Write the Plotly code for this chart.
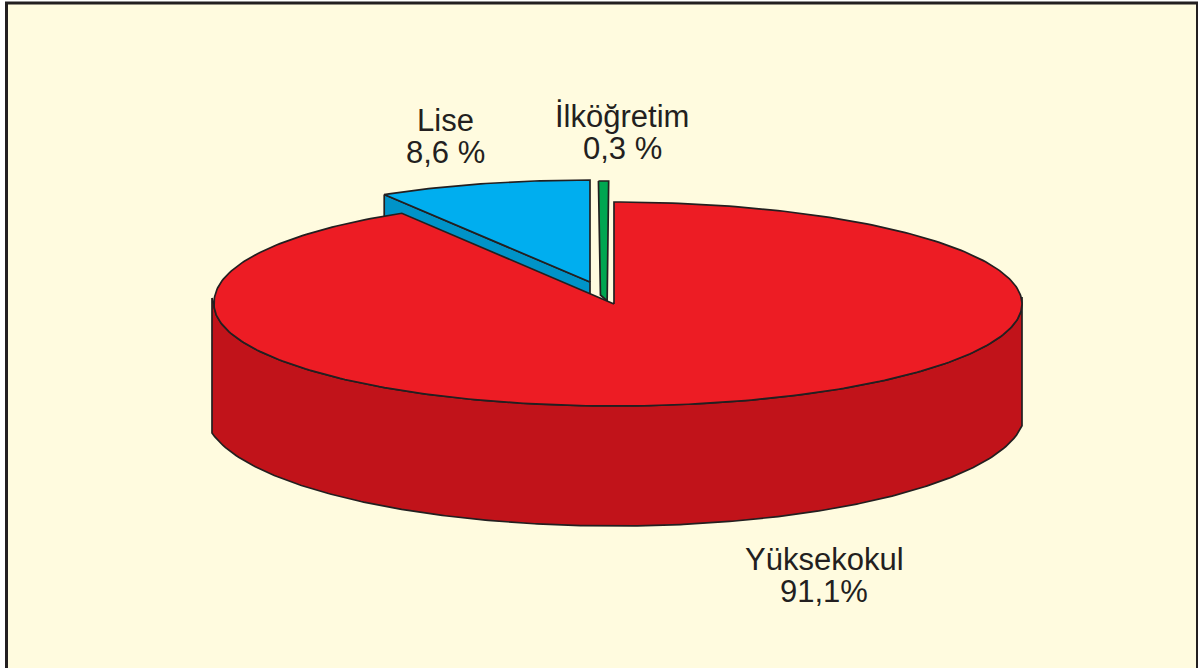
import numpy as np
import plotly.graph_objects as go

# Data
categories = ["Yüksekokul", "Lise", "İlköğretim"]
values = [91.1, 8.6, 0.3]
value_labels = ["91,1%", "8,6 %", "0,3 %"]

# Colours
top_colors = ["#ED1C24", "#00AEEF", "#00A651"]
side_colors = ["#C1131A", "#0093C8", "#00A651"]
INK = "#231F20"
BG = "#FFFBDF"

# Pie projection geometry (page pixels)
W, H = 1198, 668
CX, CY = 614, 304
RX_L, RX_R, RY = 400, 408, 102
WALL_L, WALL_R = 212, 1022
WALL_CX, WALL_CY, WALL_RX, WALL_RY = 615, 412, 410, 114
EXPLODE = {"Lise": (-24, -22), "İlköğretim": (-10.5, -21)}
MIN_SWEEP = 1.45
LISE_BAND = 40
UPPER_LEFT_LIFT = 4.5


def rim(t_deg, cx=CX, cy=CY, lift=0.0):
    t = np.radians(np.asarray(t_deg, dtype=float))
    s, c = np.sin(t), np.cos(t)
    y = cy - RY * c
    if lift:
        y = y - lift * np.sqrt(np.clip(-np.sin(2 * t), 0, None)) * ((s < 0) & (c > 0))
    return cx + np.where(s > 0, RX_R, RX_L) * s, y


def poly(x, y, fill, width=1.7):
    return go.Scatter(x=list(x), y=list(y), mode="lines", fill="toself", fillcolor=fill,
                      line=dict(color=INK, width=width), hoverinfo="skip", showlegend=False)


fig = go.Figure()

# Slices run clockwise from 12 o'clock
sweep = {c: v * 3.6 for c, v in zip(categories, values)}

# Lise: extruded side (mostly hidden by the big slice) and top
dx, dy = EXPLODE["Lise"]
ax, ay = CX + dx, CY + dy
t = np.linspace(-sweep["Lise"], 0, 40)
rx_, ry_ = rim(t, ax, ay)
fig.add_trace(poly([rx_[0], rx_[0], ax, ax, rx_[0]],
                   [ry_[0], ry_[0] + LISE_BAND, ay + LISE_BAND, ay, ry_[0]], side_colors[1]))
fig.add_trace(poly([ax, *rx_, ax], [ay, *ry_, ay], top_colors[1]))

# İlköğretim sliver
dx, dy = EXPLODE["İlköğretim"]
ax, ay = CX + dx, CY + dy
s = max(sweep["İlköğretim"], MIN_SWEEP)
rx_, ry_ = rim([-s / 2, s / 2], ax, ay)
fig.add_trace(poly([rx_[0], rx_[1], rx_[1] - 1.5, rx_[0] + 2, rx_[0]],
                   [ry_[0], ry_[1], ay + 18, ay + 12, ry_[0]], top_colors[2]))

# Yüksekokul side wall: bottom curve clipped by the vertical edges, top follows the front rim
bx = np.linspace(WALL_L, WALL_R, 300)
by = WALL_CY + WALL_RY * np.sqrt(1 - ((bx - WALL_CX) / WALL_RX) ** 2)
fx, fy = rim(np.linspace(90, 270, 181))
fig.add_trace(poly([WALL_L, *bx, WALL_R, *fx, WALL_L],
                   [CY - 6, *by, CY - 7, *fy, CY - 6], side_colors[0]))

# Yüksekokul top
t = np.linspace(0, sweep["Yüksekokul"], 361)
rx_, ry_ = rim(t, lift=UPPER_LEFT_LIFT)
fig.add_trace(poly([CX, *rx_, CX], [CY, *ry_, CY], top_colors[0]))

# Labels
label_pos = {"Lise": (445, 120), "İlköğretim": (622, 116), "Yüksekokul": (824, 559)}
LINE_GAP = 32
for c, v in zip(categories, value_labels):
    x0, y0 = label_pos[c]
    for txt, yy in ((c, y0), (v, y0 + LINE_GAP)):
        fig.add_annotation(x=x0, y=yy, text=txt, showarrow=False, xanchor="center", yanchor="middle",
                           font=dict(family="Liberation Sans", size=31, color=INK))

fig.update_layout(
    width=W, height=H, margin=dict(l=0, r=0, t=0, b=0), autosize=False,
    paper_bgcolor="white", plot_bgcolor="white", showlegend=False,
    xaxis=dict(range=[0, W], visible=False, fixedrange=True),
    yaxis=dict(range=[H, 0], visible=False, fixedrange=True),
    shapes=[dict(type="rect", x0=6.5, y0=3, x1=W - 0.5, y1=H + 10, layer="below",
                 fillcolor=BG, line=dict(color=INK, width=3))],
)
fig.write_html("out.html", config={"displayModeBar": False},
               post_script="document.body.style.margin='0';document.documentElement.style.overflow='hidden';")
